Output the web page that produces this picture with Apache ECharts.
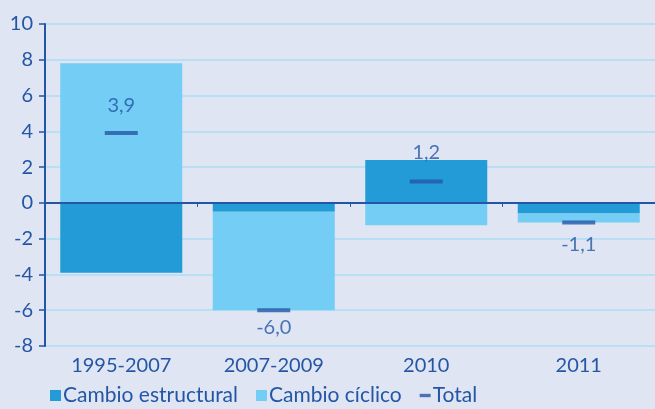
<!DOCTYPE html>
<html><head><meta charset="utf-8">
<script src="https://cdn.jsdelivr.net/npm/echarts@6/dist/echarts.min.js"></script>
<style>html,body{margin:0;padding:0;background:#dfe5f2;}#c{width:655px;height:409px;}</style>
</head><body><div id="c"></div>
<script>
var categories = ['1995-2007', '2007-2009', '2010', '2011'];
var estructural = [-3.9, -0.5, 2.4, -0.6];
var ciclico = [7.8, -5.5, -1.25, -0.5];
var total = [3.9, -6.0, 1.2, -1.1];
var yTicks = {min: -8, max: 10, interval: 2};

var txt = '#2456a6';
var font = 'Lato';
var labelDist = [16, 5, 17, 10];
var chart = echarts.init(document.getElementById('c'));
chart.setOption({
  backgroundColor: '#dfe5f2',
  animation: false,
  textStyle: {fontFamily: font},
  grid: {left: 45, right: 0, top: 24, bottom: 63},
  legend: {
    left: 45, top: 380, itemWidth: 11, itemHeight: 11, itemGap: 18,
    textStyle: {color: txt, fontSize: 21, fontFamily: font, padding: [0, 0, 0, -3]},
    data: [
      {name: 'Cambio estructural', icon: 'rect'},
      {name: 'Cambio cíclico', icon: 'rect'},
      {name: 'Total', icon: 'path://M0,0H13V4H0Z'}
    ]
  },
  xAxis: [{
    type: 'category', data: categories, z: 5,
    axisLine: {onZero: true, lineStyle: {color: txt, width: 2}},
    axisTick: {show: true, length: 4, lineStyle: {color: txt, width: 1}},
    axisLabel: {show: false}
  }, {
    type: 'category', data: categories, position: 'bottom',
    axisLine: {show: false}, axisTick: {show: false},
    axisLabel: {color: txt, fontSize: 20, margin: 10, fontFamily: font}
  }],
  yAxis: {
    type: 'value', min: yTicks.min, max: yTicks.max, interval: yTicks.interval,
    axisLine: {show: true, lineStyle: {color: txt, width: 2}},
    axisTick: {show: true, length: 6, lineStyle: {color: txt, width: 1.5}},
    axisLabel: {color: txt, fontSize: 20, margin: 12, fontFamily: font},
    splitLine: {lineStyle: {color: '#b9dff5', width: 2}}
  },
  series: [{
    name: 'Cambio estructural', type: 'bar', stack: 's', barWidth: '80%',
    data: estructural, itemStyle: {color: '#239bd6'}
  }, {
    name: 'Cambio cíclico', type: 'bar', stack: 's', barWidth: '80%',
    data: ciclico, itemStyle: {color: '#73cdf4'}
  }, {
    name: 'Total', type: 'scatter', symbol: 'rect', symbolSize: [33, 4], z: 6,
    itemStyle: {color: '#2456a6'},
    data: total.map(function (v, i) {
      return {value: v, label: {position: v >= 0 ? 'top' : 'bottom', distance: labelDist[i]}};
    }),
    label: {
      show: true, color: txt, fontSize: 20, fontFamily: font,
      formatter: function (p) { return p.value.toFixed(1).replace('.', ','); }
    }
  }]
});
</script></body></html>
